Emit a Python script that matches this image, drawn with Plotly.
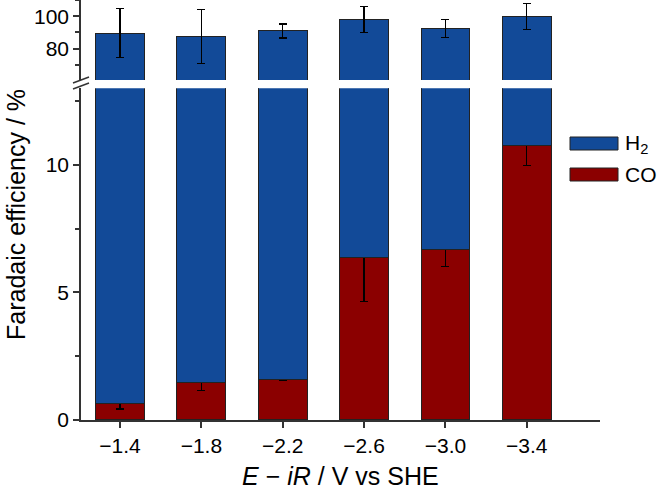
import plotly.graph_objects as go
from plotly.subplots import make_subplots

potentials = ["−1.4", "−1.8", "−2.2", "−2.6", "−3.0", "−3.4"]
co_fe = [0.63, 1.46, 1.58, 6.36, 6.68, 10.76]
co_err = [0.2, 0.3, 0.03, 1.73, 0.66, 0.79]
total_fe = [89.6, 87.6, 90.9, 97.8, 92.5, 99.8]
total_err = [15.2, 16.6, 4.3, 8.0, 5.5, 8.2]
h2_fe = [t - c for t, c in zip(total_fe, co_fe)]

BLUE = "#124A98"
RED = "#8B0000"
FONT = "Liberation Sans, Arial, sans-serif"

fig = make_subplots(rows=2, cols=1, shared_xaxes=True, vertical_spacing=0.02)

err_style = dict(type="data", color="black", thickness=1.3, width=4)
line_style = dict(color="#222222", width=1)

# upper panel (row 1)
fig.add_trace(go.Bar(x=potentials, y=co_fe, marker=dict(color=RED, line=line_style),
                     width=0.6, showlegend=False), row=1, col=1)
fig.add_trace(go.Bar(x=potentials, y=h2_fe, marker=dict(color=BLUE, line=line_style),
                     width=0.6, showlegend=False,
                     error_y=dict(array=total_err, **err_style)), row=1, col=1)
# lower panel (row 2)
fig.add_trace(go.Bar(x=potentials, y=co_fe, marker=dict(color=RED, line=line_style),
                     width=0.6, showlegend=False,
                     error_y=dict(array=co_err, **err_style)), row=2, col=1)
fig.add_trace(go.Bar(x=potentials, y=h2_fe, marker=dict(color=BLUE, line=line_style),
                     width=0.6, showlegend=False), row=2, col=1)

axcol = "#333333"
fig.update_layout(
    width=658, height=491,
    margin=dict(l=81, r=58, t=0, b=71),
    barmode="stack",
    plot_bgcolor="white", paper_bgcolor="white",
    font=dict(family=FONT, size=21, color="black"),
    xaxis=dict(range=[-0.48, 5.9], showline=False, showticklabels=False, ticks="",
               showgrid=False, zeroline=False),
    xaxis2=dict(range=[-0.48, 5.9], showline=True, linecolor=axcol, linewidth=1.5,
                ticks="outside", ticklen=6, tickwidth=1.5, tickcolor=axcol,
                showgrid=False, zeroline=False, tickfont=dict(size=21)),
    yaxis=dict(domain=[0.8095, 1.0], range=[60.6, 110], showline=True, linecolor=axcol,
               linewidth=1.5, ticks="outside", ticklen=6, tickwidth=1.5, tickcolor=axcol,
               tick0=0, dtick=20, showgrid=False, zeroline=False, tickfont=dict(size=21),
               minor=dict(dtick=10, tick0=0, ticks="outside", ticklen=4, tickwidth=1.5,
                          tickcolor=axcol, showgrid=False)),
    yaxis2=dict(domain=[0.0, 0.790], range=[0, 13.0], showline=True, linecolor=axcol,
                linewidth=1.5, ticks="outside", ticklen=6, tickwidth=1.5, tickcolor=axcol,
                tick0=0, dtick=5, showgrid=False, zeroline=False, tickfont=dict(size=21),
                minor=dict(dtick=2.5, tick0=0, ticks="outside", ticklen=4, tickwidth=1.5,
                           tickcolor=axcol, showgrid=False)),
)

def px(xp):
    return (xp - 81) / 519.0

def py(yp):
    return (420 - yp) / 420.0

# axis break marks
for y0 in (83, 89):
    fig.add_shape(type="line", xref="paper", yref="paper",
                  x0=px(73), y0=py(y0), x1=px(89), y1=py(y0 - 6),
                  line=dict(color=axcol, width=1.5))

# legend
for (ytop, ybot, col, label) in [(137, 150, BLUE, "H<sub>2</sub>"), (168, 181, RED, "CO")]:
    fig.add_shape(type="rect", xref="paper", yref="paper",
                  x0=px(570), x1=px(618), y0=py(ybot), y1=py(ytop),
                  fillcolor=col, line=dict(color="#222222", width=1))
    fig.add_annotation(xref="paper", yref="paper", x=px(623), y=py((ytop + ybot) / 2),
                       text=label, showarrow=False, xanchor="left", yanchor="middle",
                       font=dict(size=21, family=FONT))

fig.add_annotation(xref="paper", yref="paper", x=0.5, y=py(476),
                   text="<i>E</i> − <i>iR</i> / V vs SHE", showarrow=False,
                   xanchor="center", yanchor="middle", font=dict(size=25, family=FONT))
fig.add_annotation(xref="paper", yref="paper", x=px(16), y=py(215),
                   text="Faradaic efficiency / %", showarrow=False, textangle=-90,
                   xanchor="center", yanchor="middle", font=dict(size=25, family=FONT))

fig.write_html("out.html")
